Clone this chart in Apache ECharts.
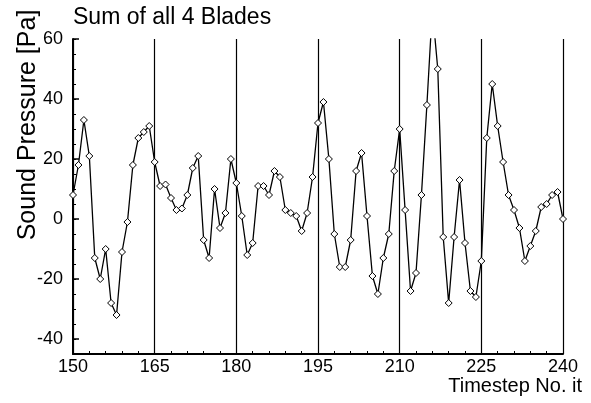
<!DOCTYPE html>
<html>
<head>
<meta charset="utf-8">
<script src="https://cdn.jsdelivr.net/npm/echarts@6/dist/echarts.min.js"></script>
<style>
html,body{margin:0;padding:0;background:#fff;}
#c{width:591px;height:403px;}
</style>
</head>
<body>
<div id="c"></div>
<script>
var timesteps = [150,151,152,153,154,155,156,157,158,159,160,161,162,163,164,165,166,167,168,169,170,171,172,173,174,175,176,177,178,179,180,181,182,183,184,185,186,187,188,189,190,191,192,193,194,195,196,197,198,199,200,201,202,203,204,205,206,207,208,209,210,211,212,213,214,215,216,217,218,219,220,221,222,223,224,225,226,227,228,229,230,231,232,233,234,235,236,237,238,239,240];
var pressure = [8,18,33,21,-13,-20,-10,-28,-32,-11,-1,18,27,29,31,19,11,11.5,7,3,3.5,8,17,21,-7,-13,10,-3,2,20,12,1,-12,-8,11,11,8,16,14,3,2,1,-4,2,14,32,39,20,-5,-16,-16,-7,16,22,1,-19,-25,-13,-5,16,30,3,-24,-18,8,38,70,50,-6,-28,-6,13,-8,-24,-26,-14,27,45,31,19,8,3,-3,-14,-9,-4,4,5,8,9,0];
var yTickLabels = [-40,-20,0,20,40,60];
var titleText = 'Sum of all 4 Blades';
var yName = 'Sound Pressure [Pa]';
var xName = 'Timestep No. it';

var FONT = '"Liberation Sans", Arial, Helvetica, sans-serif';
var chart = echarts.init(document.getElementById('c'), null, {renderer:'canvas'});
var pts = timesteps.map(function(t,i){return [t, pressure[i]];});
chart.setOption({
  animation:false,
  backgroundColor:'#fff',
  title:{text:titleText,left:68,top:1,textStyle:{fontFamily:FONT,fontSize:23,fontWeight:'normal',color:'#000'}},
  grid:{left:73,right:28,top:39,bottom:49,containLabel:false},
  graphic:[
    {type:'text',x:28,y:125,rotation:Math.PI/2,style:{text:yName,fontFamily:FONT,fontSize:25,fill:'#000',textAlign:'center',textVerticalAlign:'middle'}},
    {type:'text',x:582,y:386,style:{text:xName,fontFamily:FONT,fontSize:20,fill:'#000',textAlign:'right',textVerticalAlign:'middle'}}
  ],
  xAxis:{
    type:'value',min:150,max:240,interval:15,
    axisLine:{show:true,onZero:false,lineStyle:{color:'#000',width:2}},
    axisTick:{show:true,inside:true,length:5,lineStyle:{color:'#000'}},
    minorTick:{show:true,splitNumber:5,length:3,lineStyle:{color:'#000'}},
    axisLabel:{fontFamily:FONT,fontSize:18,color:'#000',margin:4},
    splitLine:{show:true,lineStyle:{color:'#000',width:1.2}}
  },
  yAxis:[{
    type:'value',min:-45,max:60,interval:5,
    axisLine:{show:true,onZero:false,lineStyle:{color:'#000',width:2}},
    axisTick:{show:true,inside:true,length:3,lineStyle:{color:'#000'}},
    axisLabel:{fontFamily:FONT,fontSize:18,color:'#000',margin:10,customValues:yTickLabels},
    splitLine:{show:false}
  },{
    type:'value',min:-45,max:60,position:'left',
    axisLine:{show:false},
    axisTick:{show:true,inside:true,length:6,customValues:yTickLabels,lineStyle:{color:'#000',width:1.5}},
    axisLabel:{show:false},
    splitLine:{show:false}
  }],
  series:[{
    type:'line',data:pts,yAxisIndex:0,
    lineStyle:{color:'#000',width:1.3},
    symbol:'diamond',symbolSize:7,showAllSymbol:true,
    itemStyle:{color:'#fff',borderColor:'#000',borderWidth:1},
    clip:true
  }]
});
</script>
</body>
</html>
